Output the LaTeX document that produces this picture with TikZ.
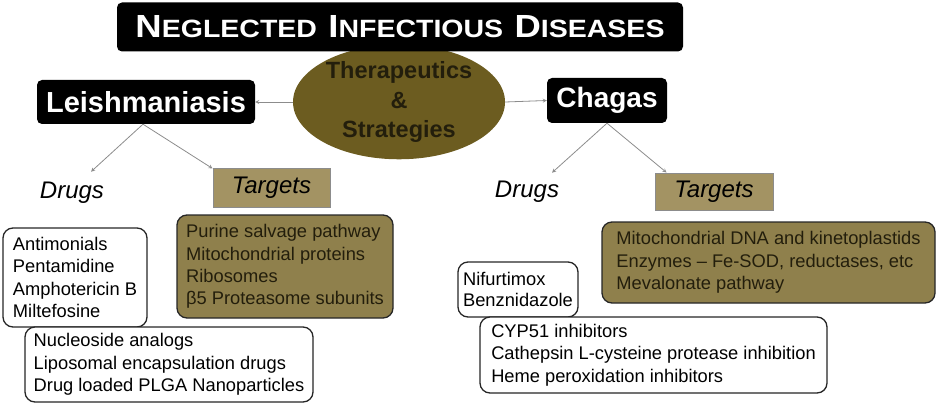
\documentclass[tikz,border=0pt]{standalone}
\usepackage{fontspec}
\setmainfont{Liberation Sans}
\usetikzlibrary{shapes.geometric}
\definecolor{ndolive}{RGB}{108,92,32}
\definecolor{ndtan}{RGB}{143,128,76}
\definecolor{ndlight}{RGB}{163,147,99}
\definecolor{ndgray}{RGB}{140,140,140}
\definecolor{ndink}{RGB}{35,30,12}
\newcommand\capsc[2]{{\fontsize{32}{32}\selectfont #1}{\fontsize{25}{25}\selectfont #2}}
\begin{document}
\begin{tikzpicture}[x=1pt,y=-1pt,
    hdr/.style={fill=black,rounded corners=5pt,text=white,font=\bfseries,inner sep=0pt},
    tlab/.style={fill=ndlight,draw=ndgray,line width=1pt,inner sep=0pt,font=\itshape\fontsize{24}{24}\selectfont},
    wbox/.style={draw=black!85,line width=1.3pt,rounded corners=10pt,align=left,inner sep=0pt,font=\fontsize{18.3}{22.3}\selectfont},
    tbox/.style={wbox,fill=ndtan,text=ndink},
    arr/.style={draw=ndgray,line width=0.8pt,-stealth}]
            \useasboundingbox (0,0) rectangle (941,406);
            \node[ellipse,fill=ndolive,minimum width=212,minimum height=110,inner sep=0pt,align=center,text=ndink,font=\bfseries\fontsize{23.5}{29.5}\selectfont] (thera) at (399,102) {Therapeutics\\\&\\Strategies};
            \node[hdr,minimum width=566,minimum height=49] (title) at (400,27) {\scalebox{1.14}[1]{\capsc{N}{EGLECTED}\hspace{10pt}\capsc{I}{NFECTIOUS}\hspace{10pt}\capsc{D}{ISEASES}}};
            \node[hdr,minimum width=218,minimum height=44,font=\bfseries\fontsize{29}{29}\selectfont] (leish) at (146,102) {Leishmaniasis};
            \node[hdr,minimum width=120,minimum height=45,font=\bfseries\fontsize{28}{28}\selectfont] (chagas) at (607,100.5) {Chagas};
            \node[font=\itshape\fontsize{24}{24}\selectfont] (drugsL) at (72,193) {Drugs};
            \node[tlab,minimum width=117,minimum height=38] (targL) at (271.5,188) {Targets};
            \node[font=\itshape\fontsize{24}{24}\selectfont] (drugsR) at (527,192) {Drugs};
            \node[tlab,minimum width=118,minimum height=37] (targR) at (714,191.5) {Targets};
            \draw[arr](thera.west)--(leish.east);
            \draw[arr](thera.east)--(chagas.west);
            \draw[arr]([xshift=-3]leish.south)--([shift={(19,-7)}]drugsL.north);
            \draw[arr]([xshift=-3]leish.south)--(targL.north west);
            \draw[arr](chagas.south)--([shift={(25,-5)}]drugsR.north);
            \draw[arr](chagas.south)--([xshift=12]targR.north west);
            \node[wbox,minimum width=144,minimum height=99] (drugL1) at (75,277.5) {Antimonials\\Pentamidine\\Amphotericin B\\Miltefosine};
            \node[tbox,minimum width=216,minimum height=103] (targL1) at (285,266.5) {Purine salvage pathway\\Mitochondrial proteins\\Ribosomes\\β5 Proteasome subunits};
            \node[wbox,fill=white,minimum width=288,minimum height=75] (drugL2) at (169,364.5) {Nucleoside analogs\\Liposomal encapsulation drugs\\Drug loaded PLGA Nanoparticles};
            \node[wbox,minimum width=120,minimum height=55,font=\fontsize{18.3}{20.5}\selectfont] (drugR1) at (518,289.5) {Nifurtimox\\Benznidazole};
            \node[tbox,minimum width=333,minimum height=81] (targR1) at (768.5,262.5) {Mitochondrial DNA and kinetoplastids\\Enzymes \textendash{} Fe-SOD, reductases, etc\\Mevalonate pathway};
            \node[wbox,fill=white,minimum width=347,minimum height=76] (drugR2) at (653.5,355) {CYP51 inhibitors\\Cathepsin L-cysteine protease inhibition\\Heme peroxidation inhibitors};
        \end{tikzpicture}
\end{document}
